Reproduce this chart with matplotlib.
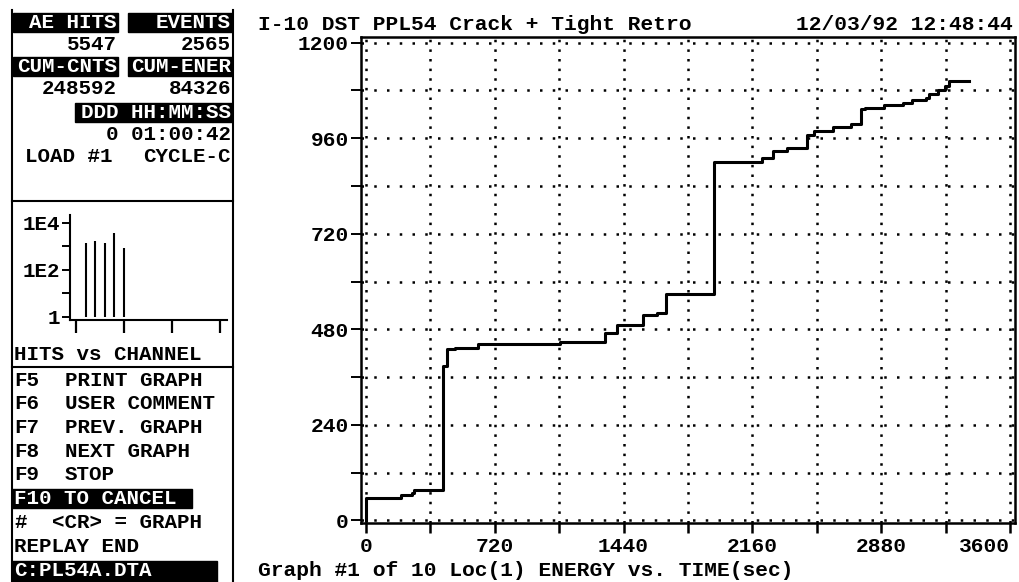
import numpy as np
import matplotlib.pyplot as plt
from matplotlib.patches import Rectangle
from matplotlib.ticker import MultipleLocator, FixedLocator

plt.rcParams['font.family'] = ['Liberation Mono', 'DejaVu Sans Mono']
plt.rcParams['font.weight'] = 'bold'
FS = 15
FT = 15.3

# кумулятивная энергия по времени
t_sec = [0, 0, 195, 255, 268, 431, 454, 497, 627, 1083, 1334, 1403, 1549, 1624, 1676,
         1947, 2215, 2277, 2356, 2464, 2502, 2608, 2711, 2769, 2788, 2895, 3003,
         3053, 3128, 3147, 3197, 3237, 3259, 3371]
energy = [0, 57, 65, 69, 76, 388, 430, 434, 442, 447, 472, 492, 517, 521, 569,
          900, 910, 929, 935, 969, 977, 989, 996, 1032, 1036, 1044, 1049,
          1056, 1061, 1071, 1080, 1092, 1103, 1103]
x_ticks = [0, 720, 1440, 2160, 2880, 3600]

# гистограмма hits vs channel
channels = [1, 2, 3, 4, 5]
hits = [1400, 1700, 1400, 3700, 870]

# текст панели
hdr_left = ["AE HITS", "CUM-CNTS"]
hdr_right = ["EVENTS", "CUM-ENER"]
val_left = ["5547", "248592"]
val_right = ["2565", "84326"]
menu_keys = ["F5", "F6", "F7", "F8", "F9"]
menu_items = ["PRINT GRAPH", "USER COMMENT", "PREV. GRAPH", "NEXT GRAPH", "STOP"]

W, H = 1020, 582
fig = plt.figure(figsize=(W / 100, H / 100), dpi=100)


def px_axes(x1, y1, x2, y2):
    return fig.add_axes([x1 / W, 1 - y2 / H, (x2 - x1) / W, (y2 - y1) / H])


# фон в пиксельных координатах
bg = fig.add_axes([0, 0, 1, 1])
bg.set_xlim(0, W)
bg.set_ylim(H, 0)
bg.axis('off')
bg.set_zorder(-1)

# рамка левой панели
bg.plot([12, 12], [10, H], color='k', lw=1.5)
bg.plot([233, 233], [10, H], color='k', lw=1.5)
bg.plot([12, 233], [201, 201], color='k', lw=1.5)
bg.plot([12, 233], [367, 367], color='k', lw=1.5)

rows = [22, 66]
for i, y in enumerate(rows):
    bg.add_patch(Rectangle((13, y - 9.5), 105, 19, color='k'))
    bg.add_patch(Rectangle((128, y - 9.5), 104, 19, color='k'))
    bg.text(117, y, hdr_left[i], color='w', fontsize=FS, ha='right', va='center')
    bg.text(231, y, hdr_right[i], color='w', fontsize=FS, ha='right', va='center')
    bg.text(117, y + 22, val_left[i], fontsize=FS, ha='right', va='center')
    bg.text(231, y + 22, val_right[i], fontsize=FS, ha='right', va='center')

bg.add_patch(Rectangle((75, 102.5), 157, 19, color='k'))
bg.text(231, 112, "DDD HH:MM:SS", color='w', fontsize=FS, ha='right', va='center')
bg.text(231, 135, "0 01:00:42", fontsize=FS, ha='right', va='center')
bg.text(25, 157, "LOAD #1", fontsize=FS, ha='left', va='center')
bg.text(231, 157, "CYCLE-C", fontsize=FS, ha='right', va='center')

bg.text(14, 355, "HITS vs CHANNEL", fontsize=FS, ha='left', va='center')

y0, dy = 380, 23.75
for i in range(len(menu_keys)):
    bg.text(14, y0 + i * dy, menu_keys[i], fontsize=FS, ha='left', va='center')
    bg.text(65, y0 + i * dy, menu_items[i], fontsize=FS, ha='left', va='center')
y = y0 + 5 * dy
bg.add_patch(Rectangle((12, y - 9.5), 180, 19, color='k'))
bg.text(14, y, "F10 TO CANCEL", color='w', fontsize=FS, ha='left', va='center')
y += dy
bg.text(14, y, "#", fontsize=FS, ha='left', va='center')
bg.text(52, y, "<CR> = GRAPH", fontsize=FS, ha='left', va='center')
y += dy
bg.text(14, y, "REPLAY END", fontsize=FS, ha='left', va='center')
y += dy
bg.add_patch(Rectangle((12, y - 9.5), 205, H - y + 9.5, color='k'))
bg.text(14, y, "C:PL54A.DTA", color='w', fontsize=FS, ha='left', va='center')

# заголовок и подпись
bg.text(258, 24, "I-10 DST PPL54 Crack + Tight Retro", fontsize=FT, ha='left', va='center')
bg.text(1013, 24, "12/03/92 12:48:44", fontsize=FT, ha='right', va='center')
bg.text(258, 570, "Graph #1 of 10 Loc(1) ENERGY vs. TIME(sec)", fontsize=FT,
        ha='left', va='center')

# маленькая гистограмма
hx = px_axes(70, 215, 227, 320)
hx.set_yscale('log')
hx.vlines(channels, 1, hits, colors='k', lw=1.5)
hx.set_xlim(-0.625, 15.73)
hx.set_ylim(10 ** -0.128, 10 ** 4.34)
hx.yaxis.set_major_locator(FixedLocator([1, 10, 100, 1000, 10000]))
hx.yaxis.set_minor_locator(FixedLocator([]))
hx.set_yticklabels(['1', '', '1E2', '', '1E4'])
hx.set_xticks([0, 5, 10, 15])
hx.set_xticklabels([])
hx.tick_params(axis='y', direction='out', length=6, width=1.4, pad=1, labelsize=FS)
hx.tick_params(axis='x', direction='out', length=9, width=1.6)
for s in ['top', 'right']:
    hx.spines[s].set_visible(False)
for s in ['left', 'bottom']:
    hx.spines[s].set_linewidth(1.5)

# основной график
ax = px_axes(361, 37, 1015, 523)
ax.plot(t_sec, energy, color='k', lw=2.2, drawstyle='steps-post', zorder=3)
ax.set_xlim(-28, 3628)
ax.set_ylim(-6.3, 1214)
ax.set_xticks(x_ticks)
ax.set_xticklabels([str(v) for v in x_ticks])
ax.xaxis.set_minor_locator(MultipleLocator(360))
ax.yaxis.set_major_locator(MultipleLocator(240))
ax.yaxis.set_minor_locator(MultipleLocator(120))
ax.xaxis.grid(True, which='both', color='k', lw=1.8, linestyle=(0, (1, 2.85)))
ax.yaxis.grid(True, which='both', color='k', lw=1.8, linestyle=(0, (1, 4.1)))
ax.tick_params(axis='x', which='both', direction='out', length=7.2, width=1.8,
               pad=3, labelsize=FT)
ax.tick_params(axis='y', which='both', direction='out', length=7.2, width=1.4,
               pad=1.5, labelsize=FT)
for s in ax.spines.values():
    s.set_linewidth(1.8)

ax.get_xticklabels()[-1].set_horizontalalignment('right')

plt.savefig("out.png", dpi=100)
